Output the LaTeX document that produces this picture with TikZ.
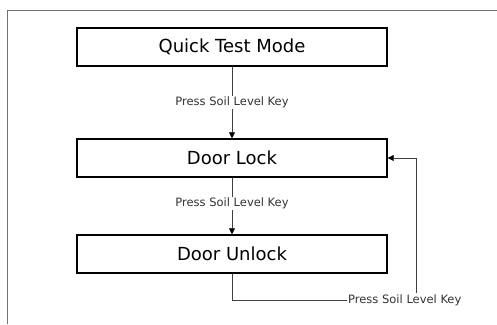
\documentclass[tikz,border=0pt]{standalone}
\usepackage{fontspec}
\setmainfont{DejaVu Sans}
\usetikzlibrary{arrows.meta}
\newcommand{\bw}{310pt}

\begin{document}
\begin{tikzpicture}[x=1pt,y=1pt,
    box/.style={draw, rectangle, line width=1.4pt, minimum width=\bw, minimum height=38pt, inner sep=0pt, font=\fontsize{18}{20}\selectfont},
    key/.style={fill=white, inner sep=1pt, text=black!80, font=\fontsize{11.5}{12}\selectfont},
    link/.style={draw=black!75, line width=0.7pt},
    >={Triangle[width=6pt,length=6pt,fill=black,color=black]}]
    \useasboundingbox (0,0) rectangle (497,-324);
    % frame
    \draw[black!55, line width=0.8pt] (7,-324) -- (7,-10.5) -- (497,-10.5);

    % states
    \node[box] (mode) at (232,-47) {Quick Test Mode};
    \node[box] (lock) at (232,-158) {Door Lock};
    \node[box] (unlock) at (232,-254) {Door Unlock};

    % transitions
    \draw[link,->] (mode) -- (lock) node[key, pos=0.5] {Press Soil Level Key};
    \draw[link,->] (lock) -- (unlock) node[key, pos=0.46] {Press Soil Level Key};

    \node[key, anchor=west] (back) at (347,-300) {Press Soil Level Key};
    \draw[link] (unlock.south) |- (back.west);
    \draw[link,->] ([xshift=12pt]back.north) |- (lock.east);
\end{tikzpicture}
\end{document}
